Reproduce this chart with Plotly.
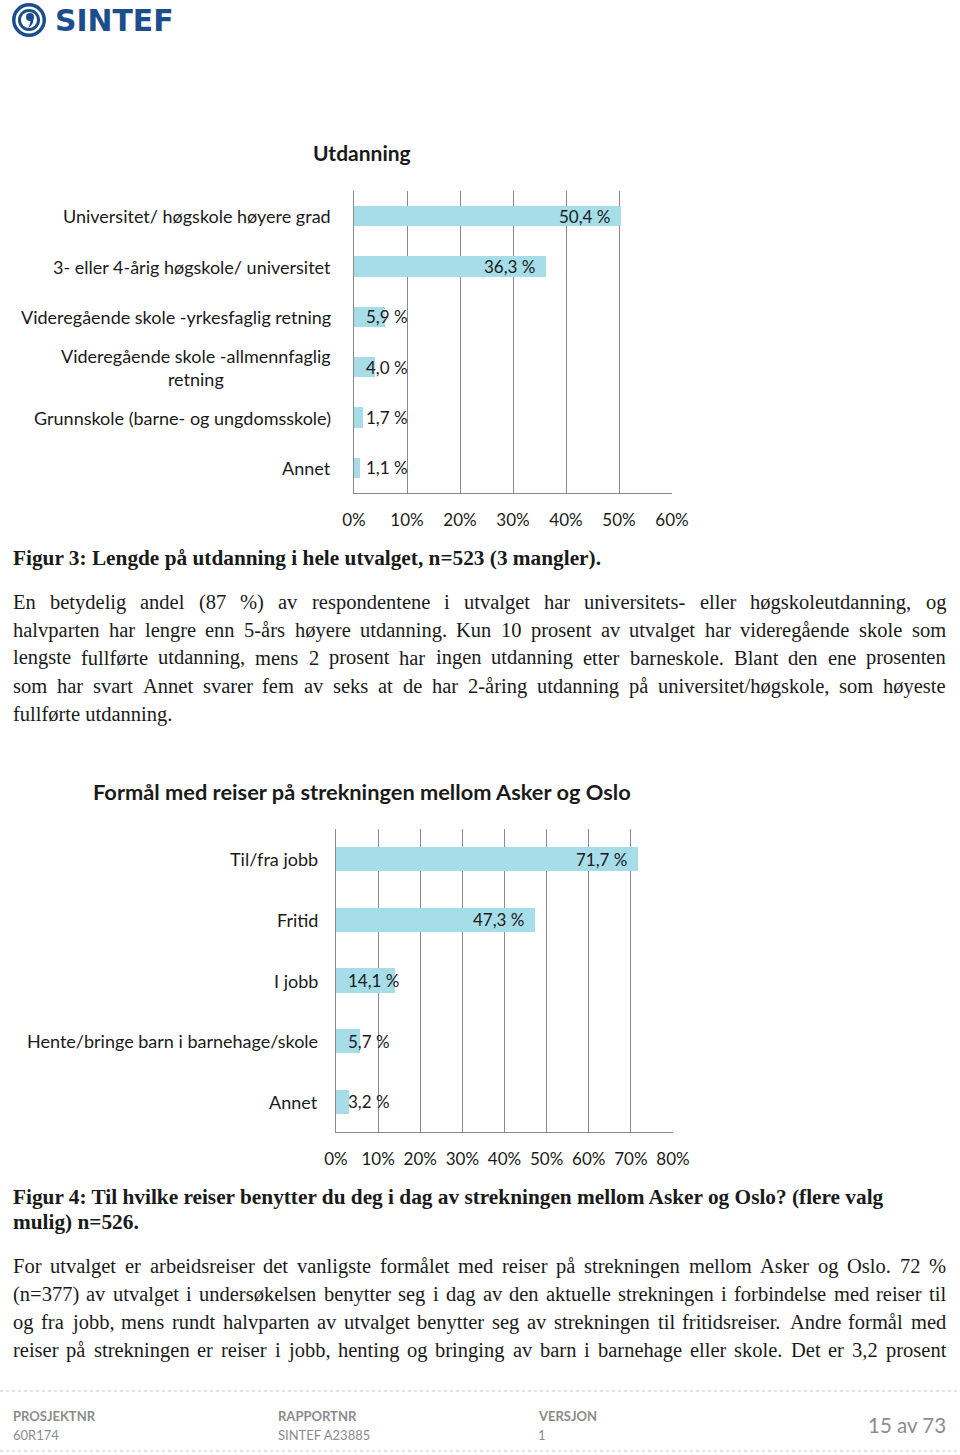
import plotly.graph_objects as go

# ---------------- data ----------------
edu_categories = [
    "Universitet/ høgskole høyere grad",
    "3- eller 4-årig høgskole/ universitet",
    "Videregående skole -yrkesfaglig retning",
    "Videregående skole -allmennfaglig<br>retning",
    "Grunnskole (barne- og ungdomsskole)",
    "Annet",
]
edu_values = [50.4, 36.3, 5.9, 4.0, 1.7, 1.1]
edu_ticks = [0, 10, 20, 30, 40, 50, 60]

trip_categories = [
    "Til/fra jobb",
    "Fritid",
    "I jobb",
    "Hente/bringe barn i barnehage/skole",
    "Annet",
]
trip_values = [71.7, 47.3, 14.1, 5.7, 3.2]
trip_ticks = [0, 10, 20, 30, 40, 50, 60, 70, 80]

W, H = 960, 1455
BAR = "#a6dde9"
GRID = "#8a8a8a"
TXT = "#1a1a1a"
SANS = "Lato"
SERIF = "Liberation Serif"
LOGO = "#1c4d8c"
FOOT = "#8c8c8c"
BODY_SIZE = 20.5
CAP_SIZE = 21.3
LEFT, RIGHT = 13, 946


def py(p):
    return 1 - p / H


def px(p):
    return p / W


fig = go.Figure()

fig.add_trace(go.Bar(
    x=edu_values, y=list(range(len(edu_categories))), orientation="h",
    marker=dict(color=BAR, line=dict(width=0)), width=0.4,
    xaxis="x", yaxis="y", hoverinfo="skip", showlegend=False,
))
fig.add_trace(go.Bar(
    x=trip_values, y=list(range(len(trip_categories))), orientation="h",
    marker=dict(color=BAR, line=dict(width=0)), width=0.4,
    xaxis="x2", yaxis="y2", hoverinfo="skip", showlegend=False,
))


def xaxis_cfg(dom, ticks):
    return dict(
        domain=dom, range=[ticks[0], ticks[-1]], tickvals=ticks,
        ticktext=[f"{t}%" for t in ticks], showgrid=True, gridcolor=GRID,
        gridwidth=1, zeroline=False, showline=True, linecolor=GRID, linewidth=1,
        ticks="", tickfont=dict(family=SANS, size=17, color=TXT),
        ticklabelstandoff=12, fixedrange=True, automargin=False,
    )


def yaxis_cfg(dom, n, anchor):
    return dict(
        domain=dom, range=[n - 0.5, -0.5], showticklabels=False, showgrid=False,
        zeroline=False, showline=True, linecolor=GRID, linewidth=1, ticks="",
        anchor=anchor, fixedrange=True, automargin=False,
    )


fig.update_layout(
    width=W, height=H, margin=dict(l=0, r=0, t=0, b=0, pad=0, autoexpand=False),
    autosize=False, showlegend=False,
    paper_bgcolor="white", plot_bgcolor="white", bargap=0,
    xaxis=dict(**xaxis_cfg([px(354), px(672)], edu_ticks), anchor="y"),
    yaxis=yaxis_cfg([py(493), py(191)], len(edu_categories), "x"),
    xaxis2=dict(**xaxis_cfg([px(336), px(673)], trip_ticks), anchor="y2"),
    yaxis2=yaxis_cfg([py(1132), py(829)], len(trip_categories), "x2"),
)

ann = []


def data_labels(vals, xr, yr, ppu):
    for i, v in enumerate(vals):
        t = f"{v:.1f}".replace(".", ",") + " %"
        if v * ppu > 80:
            ann.append(dict(x=v, y=i, xref=xr, yref=yr, text=t, showarrow=False,
                            xanchor="right", xshift=-9,
                            font=dict(family=SANS, size=17, color=TXT)))
        else:
            ann.append(dict(x=0, y=i, xref=xr, yref=yr, text=t, showarrow=False,
                            xanchor="left", xshift=10,
                            font=dict(family=SANS, size=17, color=TXT)))


def cat_labels(cats, xpos, yr):
    for i, c in enumerate(cats):
        ann.append(dict(x=xpos, y=i, xref="paper", yref=yr, text=c, showarrow=False,
                        xanchor="right", align="center", borderpad=0, borderwidth=0,
                        font=dict(family=SANS, size=18, color=TXT)))


data_labels(edu_values, "x", "y", (672 - 354) / 60)
data_labels(trip_values, "x2", "y2", (673 - 336) / 80)
cat_labels(edu_categories, px(331), "y")
cat_labels(trip_categories, px(318), "y2")


def txt(x, y, s, size=BODY_SIZE, family=SERIF, color=TXT, anchor="left", bold=False):
    if bold:
        s = f"<b>{s}</b>"
    ann.append(dict(x=px(x), y=py(y), xref="paper", yref="paper", text=s,
                    showarrow=False, xanchor=anchor, yanchor="middle",
                    borderpad=0, borderwidth=0,
                    font=dict(family=family, size=size, color=color)))


# Times / Liberation Serif regular advance widths (per 1000 em)
TIMES = {
    " ": 250, "%": 833, "(": 333, ")": 333, ",": 250, "-": 333, ".": 250, "/": 278,
    ":": 278, "=": 564,
    "A": 722, "B": 667, "C": 667, "D": 722, "E": 611, "F": 556, "G": 722, "H": 722,
    "I": 333, "J": 389, "K": 722, "L": 611, "M": 889, "N": 722, "O": 722, "P": 556,
    "Q": 722, "R": 667, "S": 556, "T": 611, "U": 722, "V": 722, "W": 944, "X": 722,
    "Y": 722, "Z": 611,
    "a": 444, "b": 500, "c": 444, "d": 500, "e": 444, "f": 333, "g": 500, "h": 500,
    "i": 278, "j": 278, "k": 500, "l": 278, "m": 778, "n": 500, "o": 500, "p": 500,
    "q": 500, "r": 333, "s": 389, "t": 278, "u": 500, "v": 500, "w": 722, "x": 500,
    "y": 500, "z": 444, "å": 444, "ø": 500, "æ": 667,
}


def wwidth(w, size):
    return sum(TIMES.get(c, 500) for c in w) * size / 1000.0


def para(lines, y0, justify_last):
    for k, line in enumerate(lines):
        y = y0 + 28 * k
        last = (k == len(lines) - 1) and not justify_last
        if last:
            txt(LEFT, y, line)
            continue
        words = line.split()
        widths = [wwidth(w, BODY_SIZE) for w in words]
        gap = (RIGHT - LEFT - sum(widths)) / (len(words) - 1)
        x = LEFT
        for w, wd in zip(words, widths):
            txt(x, y, w)
            x += wd + gap


# chart titles
txt(362, 153, "Utdanning", size=21, family=SANS, anchor="center", bold=True)
txt(93, 792, "Formål med reiser på strekningen mellom Asker og Oslo", size=21.8, family=SANS, bold=True)

# captions and body text
txt(LEFT, 558, "Figur 3: Lengde på utdanning i hele utvalget, n=523 (3 mangler).", size=CAP_SIZE, bold=True)
body1 = [
    "En betydelig andel (87 %) av respondentene i utvalget har universitets- eller høgskoleutdanning, og",
    "halvparten har lengre enn 5-års høyere utdanning.  Kun 10 prosent av utvalget har videregående skole som",
    "lengste fullførte utdanning, mens 2 prosent har ingen utdanning etter barneskole. Blant den ene prosenten",
    "som har svart Annet svarer fem av seks at de har 2-åring utdanning på universitet/høgskole, som høyeste",
    "fullførte utdanning.",
]
para(body1, 602, False)

txt(LEFT, 1197, "Figur 4: Til hvilke reiser benytter du deg i dag av strekningen mellom Asker og Oslo? (flere valg",
    size=CAP_SIZE, bold=True)
txt(LEFT, 1222, "mulig) n=526.", size=CAP_SIZE, bold=True)
body2 = [
    "For utvalget er arbeidsreiser det vanligste formålet med reiser på strekningen mellom Asker og Oslo. 72 %",
    "(n=377) av utvalget i undersøkelsen benytter seg i dag av den aktuelle strekningen i forbindelse med reiser til",
    "og fra jobb, mens rundt halvparten av utvalget benytter seg av strekningen til fritidsreiser. Andre formål med",
    "reiser på strekningen er reiser i jobb, henting og bringing av barn i barnehage eller skole. Det er 3,2 prosent",
]
para(body2, 1266, True)

# logo
txt(55, 21, "SINTEF", size=29.8, family="DejaVu Sans", color=LOGO, bold=True)

# footer
txt(13, 1416, "PROSJEKTNR", size=13, family=SANS, color=FOOT, bold=True)
txt(13, 1435, "60R174", size=13, family=SANS, color=FOOT)
txt(278, 1416, "RAPPORTNR", size=13, family=SANS, color=FOOT, bold=True)
txt(278, 1435, "SINTEF A23885", size=13, family=SANS, color=FOOT)
txt(538, 1416, "VERSJON", size=13, family=SANS, color=FOOT, bold=True)
txt(538, 1435, "1", size=13, family=SANS, color=FOOT)
txt(946, 1425, "15 av 73", size=20.5, family=SANS, color=FOOT, anchor="right")

fig.update_layout(annotations=ann)

shapes = []


def circ(cx, cy, r, color):
    shapes.append(dict(type="circle", xref="paper", yref="paper",
                       x0=px(cx - r), x1=px(cx + r), y0=py(cy + r), y1=py(cy - r),
                       fillcolor=color, line=dict(width=0)))


circ(29, 20, 17, LOGO)
circ(29, 20, 13.5, "white")
circ(29, 20, 11, LOGO)
circ(29, 20, 8, "white")
circ(30, 17, 4, LOGO)
shapes.append(dict(type="path", xref="paper", yref="paper",
                   path=f"M {px(33)} {py(17)} Q {px(35)} {py(24)} {px(28)} {py(28)} "
                        f"Q {px(31)} {py(23)} {px(30)} {py(20)} Z",
                   fillcolor=LOGO, line=dict(width=0)))

for yy in (1391, 1451):
    shapes.append(dict(type="line", xref="paper", yref="paper", x0=0, x1=1,
                       y0=py(yy), y1=py(yy), line=dict(color="#c8c8c8", width=1, dash="dot")))

fig.update_layout(shapes=shapes)

fig.write_html(
    "out.html",
    config={"responsive": False, "displayModeBar": False},
    post_script="document.body.style.margin='0';document.body.style.overflow='hidden';",
)
